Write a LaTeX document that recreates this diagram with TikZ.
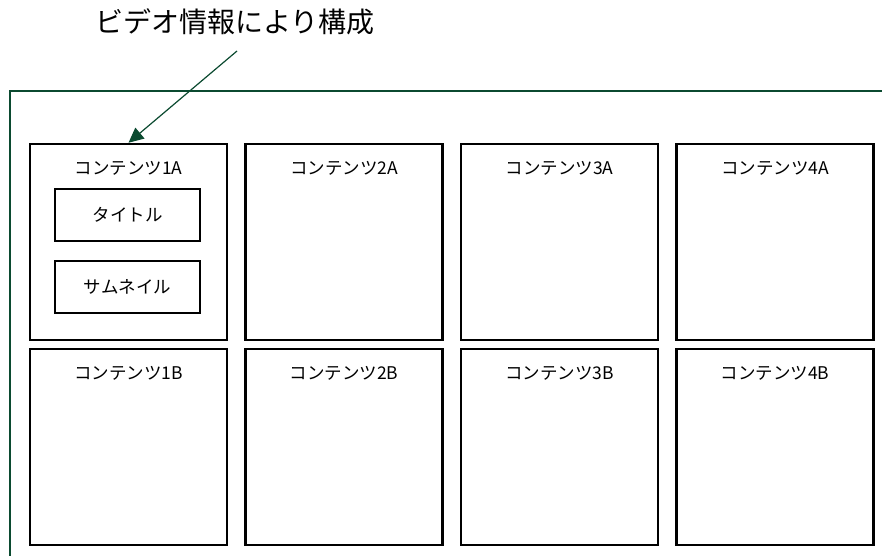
\documentclass[tikz,border=0pt]{standalone}
\usepackage{fontspec}
\setmainfont{Noto Sans CJK JP}
\usetikzlibrary{arrows.meta}
\definecolor{framegreen}{HTML}{0B4A30}
\begin{document}
\begin{tikzpicture}[x=1pt,y=-1pt,
    cbox/.style={draw, line width=2.5pt, minimum width=197pt, minimum height=196pt, inner sep=0pt},
    ibox/.style={draw, line width=2.5pt, minimum width=145pt, minimum height=52pt, inner sep=0pt},
    lab/.style={font=\fontsize{17.5}{20}\selectfont}]
            \useasboundingbox (0,0) rectangle (882,555);

            % outer frame
            \draw[framegreen, line width=2.5pt] (10,570) -- (10,91) -- (900,91);

            \node[font=\fontsize{28}{32}\selectfont] (title) at (235,22) {ビデオ情報により構成};

            \foreach \c [count=\i] in {128.5,344,559.5,775}{
                \foreach \r/\y in {A/242,B/447}{
                    \node[cbox] (c\i\r) at (\c,\y) {};
                    \node[lab] (l\i\r) at (\c,\y-74) {コンテンツ\i\r};
                }
            }

            \node[ibox, lab] (titlebox) at (127.5,215) {タイトル};
            \node[ibox, lab] (thumb) at (127.5,287) {サムネイル};

            \coordinate (tail) at (237,51);
            \draw[framegreen, line width=1.2pt, -{Triangle[length=15pt,width=14pt]}] (tail) -- (c1A.north);
\end{tikzpicture}
\end{document}
